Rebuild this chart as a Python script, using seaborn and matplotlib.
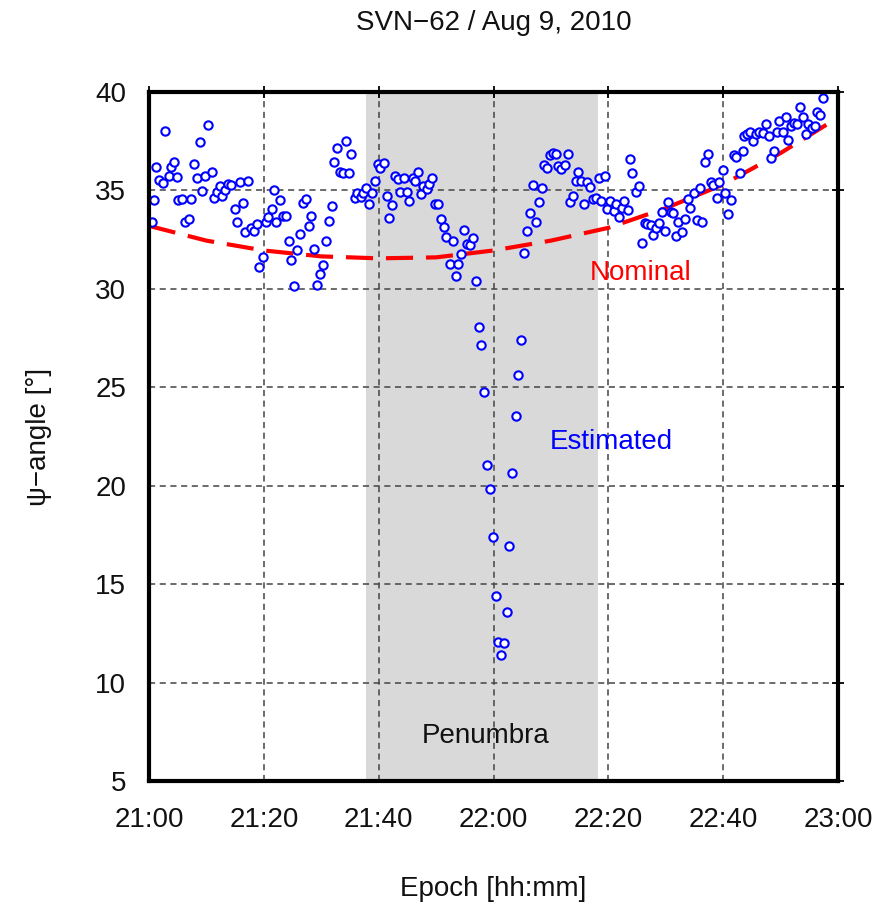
import numpy as np
import pandas as pd
import matplotlib
matplotlib.use("Agg")
import matplotlib.pyplot as plt
import seaborn as sns

# ---------------- data ----------------
# minutes since 21:00
est_t = [0.5, 0.9, 1.2, 1.7, 2.4, 2.8, 3.4, 3.8, 4.3, 4.8, 5.1, 5.8, 6.3, 6.9, 7.3, 7.8, 8.3, 8.8, 9.3, 9.8,
         10.3, 10.9, 11.3, 11.8, 12.3, 12.8, 13.2, 13.8, 14.3, 14.9, 15.3, 15.8, 16.4, 16.8, 17.3, 17.7, 18.3, 18.8, 19.2, 19.9,
         20.4, 20.8, 21.4, 21.8, 22.2, 22.8, 23.3, 23.9, 24.3, 24.8, 25.3, 25.8, 26.3, 26.8, 27.3, 27.9, 28.3, 28.8, 29.3, 29.8,
         30.3, 30.8, 31.3, 31.8, 32.3, 32.8, 33.3, 33.8, 34.3, 34.8, 35.2, 35.8, 36.3, 36.9, 37.3, 37.8, 38.3, 38.9, 39.4, 39.8,
         40.3, 40.9, 41.4, 41.8, 42.3, 42.8, 43.3, 43.8, 44.4, 44.9, 45.3, 45.9, 46.3, 46.8, 47.4, 47.8, 48.4, 48.8, 49.3, 49.8,
         50.3, 50.8, 51.4, 51.8, 52.4, 52.9, 53.4, 53.8, 54.4, 54.9, 55.3, 55.9, 56.4, 56.9, 57.4, 57.8, 58.3, 58.8, 59.4, 59.9,
         60.4, 60.8, 61.3, 61.9, 62.4, 62.7, 63.3, 63.9, 64.3, 64.8, 65.3, 65.8, 66.4, 66.9, 67.4, 67.9, 68.4, 68.8, 69.4, 69.8,
         70.3, 70.9, 71.3, 71.8, 72.4, 72.9, 73.3, 73.9, 74.4, 74.8, 75.3, 75.8, 76.2, 76.8, 77.3, 77.8, 78.4, 78.8, 79.4, 79.7,
         80.3, 80.9, 81.3, 81.9, 82.3, 82.8, 83.4, 83.8, 84.2, 84.8, 85.3, 85.8, 86.3, 86.8, 87.4, 87.8, 88.3, 88.9, 89.3, 89.9,
         90.4, 90.9, 91.3, 91.8, 92.2, 92.8, 93.4, 93.8, 94.3, 94.9, 95.4, 96.0, 96.4, 96.8, 97.4, 97.8, 98.3, 98.9, 99.3, 99.9,
         100.3, 100.8, 101.4, 101.8, 102.3, 102.9, 103.5, 103.6, 104.2, 104.7, 105.2, 105.7, 106.3, 106.9, 107.4, 107.9, 108.4, 108.9, 109.3, 109.8,
         110.4, 110.9, 111.3, 111.8, 112.3, 112.9, 113.4, 113.9, 114.4, 114.8, 115.4, 116.0, 116.4, 116.9, 117.4]
est_psi = [33.41, 34.51, 36.17, 35.53, 35.36, 38.03, 35.75, 36.20, 36.46, 35.70, 34.50, 34.58, 33.41, 33.53, 34.56, 36.36, 35.62, 37.44, 34.99, 35.75,
           38.32, 35.92, 34.60, 34.94, 35.22, 34.72, 35.02, 35.31, 35.28, 34.06, 33.41, 35.41, 34.35, 32.90, 35.48, 33.11, 32.94, 33.28, 31.13, 31.63,
           33.41, 33.67, 34.06, 35.01, 33.41, 34.50, 33.69, 33.70, 32.45, 31.47, 30.13, 31.97, 32.77, 34.35, 34.56, 33.19, 33.70, 32.02, 30.20, 30.75,
           31.21, 32.45, 33.47, 34.22, 36.46, 37.14, 35.95, 35.90, 37.53, 35.89, 36.84, 34.63, 34.85, 34.68, 34.85, 35.14, 34.30, 34.85, 35.49, 36.34,
           36.12, 36.41, 34.72, 33.61, 34.26, 35.73, 35.56, 34.90, 35.65, 34.90, 34.48, 35.61, 35.48, 35.95, 34.80, 35.22, 35.07, 35.31, 35.61, 34.33,
           34.31, 33.53, 33.13, 32.62, 31.26, 32.43, 30.67, 31.25, 31.76, 32.99, 32.28, 32.23, 32.57, 30.42, 28.08, 27.17, 24.76, 21.05, 19.85, 17.38,
           14.41, 12.08, 11.40, 12.00, 13.60, 16.95, 20.63, 23.52, 25.61, 27.40, 31.81, 32.96, 33.84, 35.28, 33.41, 34.43, 35.11, 36.29, 36.16, 36.80,
           36.92, 36.85, 36.24, 36.09, 36.29, 36.84, 34.43, 34.72, 35.48, 35.95, 35.48, 34.31, 35.44, 35.19, 34.55, 34.60, 35.65, 34.48, 35.75, 34.06,
           34.46, 33.97, 34.31, 33.64, 34.09, 34.46, 34.01, 36.58, 35.90, 34.94, 35.24, 32.31, 33.33, 33.28, 33.24, 32.74, 33.08, 33.36, 33.92, 32.96,
           34.43, 33.92, 33.87, 32.69, 33.41, 32.90, 33.53, 34.56, 34.12, 34.85, 33.50, 35.14, 33.38, 36.43, 36.85, 35.41, 35.28, 34.60, 35.41, 36.04,
           34.88, 33.79, 34.51, 36.80, 36.68, 35.87, 37.02, 37.78, 37.85, 37.98, 37.51, 37.87, 37.98, 37.90, 38.36, 37.78, 36.63, 37.00, 37.95, 38.54,
           37.95, 38.71, 37.56, 38.29, 38.44, 38.36, 39.22, 38.71, 37.87, 38.36, 38.16, 38.29, 39.00, 38.83, 39.68]

nom_t = [0, 10, 20, 30, 40, 50, 60, 70, 80, 90, 100, 110, 120]
nom_psi = [33.2, 32.45, 31.95, 31.65, 31.55, 31.6, 31.95, 32.45, 33.1, 34.1, 35.3, 36.9, 38.7]

penumbra = [37.8, 78.2]

xticks = [0, 20, 40, 60, 80, 100, 120]
xtick_labels = ["21:00", "21:20", "21:40", "22:00", "22:20", "22:40", "23:00"]
yticks = [5, 10, 15, 20, 25, 30, 35, 40]

title = "SVN\u221262 / Aug 9, 2010"
xlabel = "Epoch [hh:mm]"
ylabel = "\u03c8\u2212angle [\u00b0]"

# ---------------- plot ----------------
sns.set_theme(style="white")
plt.rcParams["font.family"] = ["Liberation Sans", "DejaVu Sans"]
FS = 20

W, H = 888, 906
fig = plt.figure(figsize=(W / 100, H / 100), dpi=100)
ax = fig.add_axes([149 / W, 1 - 781 / H, 689 / W, 689 / H])

ax.axvspan(penumbra[0], penumbra[1], color="#d9d9d9", lw=0, zorder=0)

df_est = pd.DataFrame({"t": est_t, "psi": est_psi})
df_nom = pd.DataFrame({"t": nom_t, "psi": nom_psi})

sns.lineplot(data=df_nom, x="t", y="psi", ax=ax, color="#ff0000", lw=3.0,
             zorder=3)
ax.lines[-1].set_dashes((6.5, 3.1))
ax.lines[-1].set_dash_capstyle("butt")

sns.scatterplot(data=df_est, x="t", y="psi", ax=ax, marker="o", s=36,
                facecolor="white", edgecolor="#0000ff", linewidth=1.5, zorder=4)

ax.set_xlim(0, 120)
ax.set_ylim(5, 40)
ax.set_xticks(xticks)
ax.set_xticklabels(xtick_labels)
ax.set_yticks(yticks)

ax.grid(True, color="#444444", linestyle=(0, (4, 3)), linewidth=1.1, zorder=1)
ax.set_axisbelow(True)

for sp in ax.spines.values():
    sp.set_linewidth(3.0)
    sp.set_color("black")
    sp.set_zorder(5)

ax.tick_params(axis="both", which="major", direction="inout", length=9, width=1.3,
               colors="black", labelsize=FS, top=True, right=True,
               labeltop=False, labelright=False)
ax.tick_params(axis="x", pad=14)
ax.tick_params(axis="y", pad=12)
for lab in ax.get_xticklabels() + ax.get_yticklabels():
    lab.set_color("#111111")

ax.set_xlabel(xlabel, fontsize=FS, color="#111111")
ax.set_ylabel(ylabel, fontsize=FS, color="#111111")
ax.xaxis.set_label_coords(0.5, (781 - 876) / 689)
ax.yaxis.set_label_coords((52 - 149) / 689, 0.5)

fig.text(493.5 / W, 1 - 30 / H, title, ha="center", va="baseline", fontsize=FS, color="#111111")

ax.text(85.6, 30.45, "Nominal", color="#ff0000", fontsize=FS, ha="center", va="baseline", zorder=6)
ax.text(80.6, 21.85, "Estimated", color="#0000ff", fontsize=FS, ha="center", va="baseline", zorder=6)
ax.text(58.7, 6.95, "Penumbra", color="#111111", fontsize=FS, ha="center", va="baseline", zorder=0.5)

fig.savefig("out.png", dpi=100, facecolor="white")
